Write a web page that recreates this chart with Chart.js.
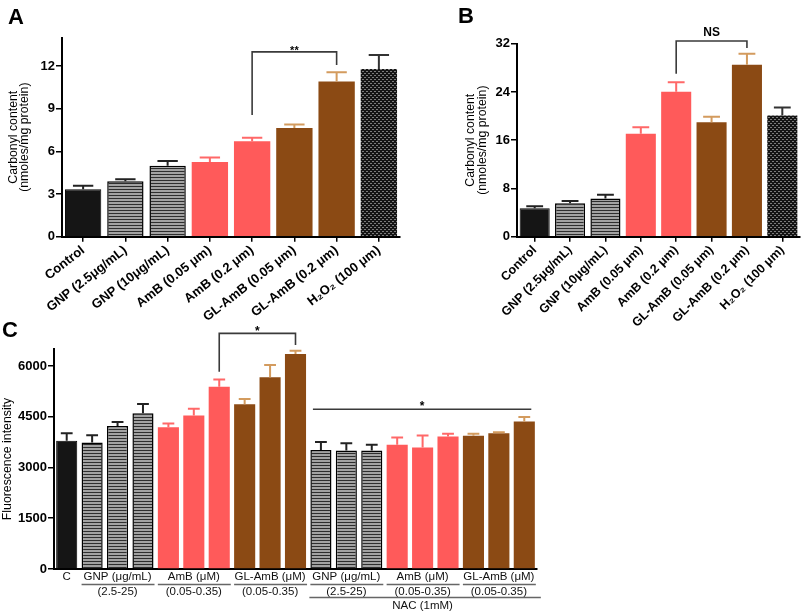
<!DOCTYPE html>
<html><head><meta charset="utf-8">
<script src="https://cdn.jsdelivr.net/npm/chart.js@4/dist/chart.umd.min.js"></script>
<style>
html,body{margin:0;padding:0;background:#fff;}
#wrap{position:relative;width:803px;height:612px;overflow:hidden;background:#fff;}
canvas{position:absolute;left:0;top:0;}
.lbl{position:absolute;font:bold 22px "Liberation Sans",Arial,sans-serif;color:#000;line-height:1;}
</style></head><body>
<div id="wrap">
<canvas id="cA" width="803" height="612"></canvas>
<canvas id="cB" width="803" height="612"></canvas>
<canvas id="cC" width="803" height="612"></canvas>
<div class="lbl" style="left:8px;top:6px;">A</div>
<div class="lbl" style="left:458px;top:5px;">B</div>
<div class="lbl" style="left:2px;top:319px;">C</div>
</div>
<script>
// ---------- data ----------
const categoriesAB = ['Control','GNP (2.5μg/mL)','GNP (10μg/mL)','AmB (0.05 μm)','AmB (0.2 μm)','GL-AmB (0.05 μm)','GL-AmB (0.2 μm)','H₂O₂ (100 μm)'];
const stylesAB = ['black','hatch','hatch','salmon','salmon','brown','brown','dots'];
const carbonylA = [3.34, 3.9, 5.0, 5.26, 6.71, 7.65, 10.92, 11.8];
const carbonylAErr = [0.24, 0.15, 0.33, 0.31, 0.26, 0.25, 0.65, 0.99];
const carbonylB = [4.7, 5.56, 6.34, 17.08, 24.04, 18.98, 28.49, 20.09];
const carbonylBErr = [0.36, 0.36, 0.6, 1.06, 1.56, 0.89, 1.84, 1.33];
const ticksA = [0, 3, 6, 9, 12];
const ticksB = [0, 8, 16, 24, 32];

const categoriesC = ['C','GNP 2.5','GNP 10','GNP 25','AmB 0.05','AmB 0.2','AmB 0.35','GL-AmB 0.05','GL-AmB 0.2','GL-AmB 0.35',
  'NAC+GNP 2.5','NAC+GNP 10','NAC+GNP 25','NAC+AmB 0.05','NAC+AmB 0.2','NAC+AmB 0.35','NAC+GL-AmB 0.05','NAC+GL-AmB 0.2','NAC+GL-AmB 0.35'];
const stylesC = ['black','hatch','hatch','hatch','salmon','salmon','salmon','brown','brown','brown',
  'hatch','hatch','hatch','salmon','salmon','salmon','brown','brown','brown'];
const fluorC = [3788, 3739, 4228, 4600, 4189, 4532, 5383, 4864, 5667, 6352, 3514, 3504, 3504, 3670, 3592, 3915, 3935, 4013, 4355];
const fluorCErr = [225, 215, 118, 274, 108, 205, 215, 157, 362, 98, 235, 215, 166, 216, 352, 78, 58, 29, 137];
const ticksC = [0, 1500, 3000, 4500, 6000];
const groupsC = [
  {text:'C', sub:'', from:0, to:0},
  {text:'GNP (μg/mL)', sub:'(2.5-25)', from:1, to:3},
  {text:'AmB (μM)', sub:'(0.05-0.35)', from:4, to:6},
  {text:'GL-AmB (μM)', sub:'(0.05-0.35)', from:7, to:9},
  {text:'GNP (μg/mL)', sub:'(2.5-25)', from:10, to:12},
  {text:'AmB (μM)', sub:'(0.05-0.35)', from:13, to:15},
  {text:'GL-AmB (μM)', sub:'(0.05-0.35)', from:16, to:18}
];
const nacGroupC = {text:'NAC (1mM)', from:10, to:18};

// ---------- styling ----------
const FONT = '"Liberation Sans", Arial, Helvetica, sans-serif';
Chart.defaults.font.family = FONT;
Chart.defaults.color = '#000';

function makeFills(ctx){
  const h = document.createElement('canvas'); h.width = 4; h.height = 3;
  const hg = h.getContext('2d');
  hg.fillStyle = '#a2a2a2'; hg.fillRect(0,0,4,3);
  hg.fillStyle = '#2e2e2e'; hg.fillRect(0,0,4,1);
  const d = document.createElement('canvas'); d.width = 4; d.height = 4;
  const dg = d.getContext('2d');
  dg.fillStyle = '#141414'; dg.fillRect(0,0,4,4);
  dg.fillStyle = '#7c7c7c'; dg.fillRect(0,1,2,1); dg.fillRect(2,3,2,1);
  return {
    black:'#151515', salmon:'#FF5A5A', brown:'#8B4A14',
    hatch: ctx.createPattern(h,'repeat'), dots: ctx.createPattern(d,'repeat')
  };
}
const errColors = {black:'#222', hatch:'#222', salmon:'#FF6868', brown:'#D39B5E', dots:'#333'};

function makeChart(id, c){
  const canvas = document.getElementById(id);
  const ctx = canvas.getContext('2d');
  const fills = makeFills(ctx);
  const plugins = [{
    id:'errs',
    afterDatasetsDraw(chart){
      const g = chart.ctx, meta = chart.getDatasetMeta(0), y = chart.scales.y;
      meta.data.forEach((bar,i)=>{
        const base = y.getPixelForValue(c.values[i]);
        const top = y.getPixelForValue(c.values[i] + c.errors[i]);
        const hw = bar.width * 0.28;
        g.save();
        g.strokeStyle = errColors[c.styles[i]]; g.lineWidth = 2;
        g.beginPath();
        g.moveTo(bar.x, base); g.lineTo(bar.x, top);
        g.moveTo(bar.x - hw, top); g.lineTo(bar.x + hw, top);
        g.stroke(); g.restore();
      });
      const x = chart.scales.x;
      (c.brackets||[]).forEach(b=>{
        g.save();
        g.strokeStyle = '#3a3a3a'; g.lineWidth = 1.6; g.fillStyle = '#000';
        g.beginPath();
        let xa, xb;
        if (b.type === 'line') {
          xa = x.getPixelForValue(b.from) - b.padL; xb = x.getPixelForValue(b.to) + b.padR;
          g.moveTo(xa, y.getPixelForValue(b.top)); g.lineTo(xb, y.getPixelForValue(b.top));
        } else {
          xa = x.getPixelForValue(b.from); xb = x.getPixelForValue(b.to);
          g.moveTo(xa, y.getPixelForValue(b.leftBottom));
          g.lineTo(xa, y.getPixelForValue(b.top));
          g.lineTo(xb, y.getPixelForValue(b.top));
          g.lineTo(xb, y.getPixelForValue(b.rightBottom));
        }
        g.stroke();
        g.font = 'bold ' + b.size + 'px ' + FONT;
        g.textAlign = 'center'; g.textBaseline = 'middle';
        g.fillText(b.text, (xa + xb)/2, y.getPixelForValue(b.textY));
        g.restore();
      });
    }
  }];
  if (c.groups) plugins.push({
    id:'groups',
    afterDraw(chart){
      const g = chart.ctx, x = chart.scales.x, bottom = chart.chartArea.bottom;
      const meta = chart.getDatasetMeta(0);
      const half = meta.data[0].width / 2;
      g.save();
      g.fillStyle = '#111'; g.strokeStyle = '#666'; g.lineWidth = 1.5;
      g.font = '11.5px ' + FONT; g.textAlign = 'center'; g.textBaseline = 'middle';
      c.groups.forEach(gr=>{
        const xa = x.getPixelForValue(gr.from), xb = x.getPixelForValue(gr.to);
        const cx = (xa + xb)/2;
        g.fillText(gr.text, cx, bottom + 8);
        if (gr.sub) {
          g.beginPath(); g.moveTo(xa - half, bottom + 15.5); g.lineTo(xb + half + 1, bottom + 15.5); g.stroke();
          g.fillText(gr.sub, cx, bottom + 23);
        }
      });
      const na = x.getPixelForValue(c.nac.from) - half - 1, nb = x.getPixelForValue(c.nac.to) + half + 6;
      g.beginPath(); g.moveTo(na, bottom + 28.5); g.lineTo(nb, bottom + 28.5); g.stroke();
      g.font = '11.5px ' + FONT;
      g.fillText(c.nac.text, (x.getPixelForValue(c.nac.from) + x.getPixelForValue(c.nac.to))/2, bottom + 36.5);
      g.restore();
    }
  });
  const a = c.area;
  return new Chart(ctx, {
    type:'bar',
    data:{
      labels: c.labels,
      datasets:[{
        data: c.values,
        backgroundColor: c.styles.map(s=>fills[s]),
        borderColor: c.styles.map(s=> (s==='hatch'||s==='black') ? '#000' : 'rgba(0,0,0,0)'),
        borderWidth: c.styles.map(s=> s==='hatch' ? 1.5 : (s==='black' ? 1 : 0)),
        barPercentage: c.barPct, categoryPercentage: 1
      }]
    },
    options:{
      responsive:false, animation:false, devicePixelRatio:1,
      layout:{padding:{left:a.left - c.yWidth, right:803 - a.right, top:a.top, bottom:612 - a.bottom - c.xHeight}},
      plugins:{legend:{display:false}, tooltip:{enabled:false}},
      scales:{
        x:{
          offset:true,
          grid:{display:true, drawOnChartArea:false, drawTicks:c.xTicks, tickLength:5, offset:false, color:'#000', lineWidth:1.5},
          border:{display:true, color:'#000', width:2},
          ticks:{display:c.xLabels, autoSkip:false, maxRotation:c.rot||45, minRotation:c.rot||45, padding:1, color:'#000',
                 font:{family:FONT, size:c.xFont||12, weight:'bold'}},
          afterFit(s){ s.height = c.xHeight; }
        },
        y:{
          min:0, max:c.yMax,
          afterBuildTicks(s){ s.ticks = c.ticks.map(v=>({value:v})); },
          grid:{display:true, drawOnChartArea:false, tickLength:6, color:'#000', lineWidth:1.5},
          border:{display:true, color:'#000', width:2},
          ticks:{padding:1, color:'#000', font:{family:FONT, size:13, weight:'bold'}, callback:(v)=>String(v)},
          title:{display:true, text:c.yTitle, color:'#000', padding:{top:c.titlePad, bottom:0},
                 font:{family:FONT, size:c.titleSize, lineHeight:c.titleLH}},
          afterFit(s){ s.width = c.yWidth; }
        }
      }
    },
    plugins
  });
}

makeChart('cA', {
  labels: categoriesAB, values: carbonylA, errors: carbonylAErr, styles: stylesAB,
  yMax: 14, ticks: ticksA, yTitle: ['Carbonyl content','(nmoles/mg protein)'],
  area:{left:62, right:400, top:37.7, bottom:236.7}, yWidth:62, xHeight:120, rot:38, xFont:13,
  xTicks:true, xLabels:true, barPct:0.86, titlePad:7.5, titleSize:12.3, titleLH:0.93,
  brackets:[{from:4, to:6, top:13.0, leftBottom:8.56, rightBottom:12.08, text:'**', textY:13.1, size:11}]
});
makeChart('cB', {
  labels: categoriesAB, values: carbonylB, errors: carbonylBErr, styles: stylesAB,
  yMax: 32, ticks: ticksB, yTitle: ['Carbonyl content','(nmoles/mg protein)'],
  area:{left:517, right:800, top:43.7, bottom:236.7}, yWidth:60, xHeight:120, rot:45, xFont:12.5,
  xTicks:true, xLabels:true, barPct:0.85, titlePad:8, titleSize:12.3, titleLH:0.97,
  brackets:[{from:4, to:6, top:32.45, leftBottom:27.0, rightBottom:31.3, text:'NS', textY:33.9, size:12}]
});
makeChart('cC', {
  labels: categoriesC, values: fluorC, errors: fluorCErr, styles: stylesC,
  yMax: 6500, ticks: ticksC, yTitle: 'Fluorescence intensity',
  area:{left:54, right:537, top:349, bottom:569}, yWidth:54, xHeight:40,
  xTicks:false, xLabels:false, barPct:0.83, titlePad:0, titleSize:12.3, titleLH:1.2,
  groups: groupsC, nac: nacGroupC,
  brackets:[
    {from:6, to:9, top:6963, leftBottom:5829, rightBottom:6617, text:'*', textY:7000, size:12},
    {type:'line', from:10, to:18, padL:8, padR:7, top:4718, text:'*', textY:4800, size:12}
  ]
});
</script>
</body></html>
